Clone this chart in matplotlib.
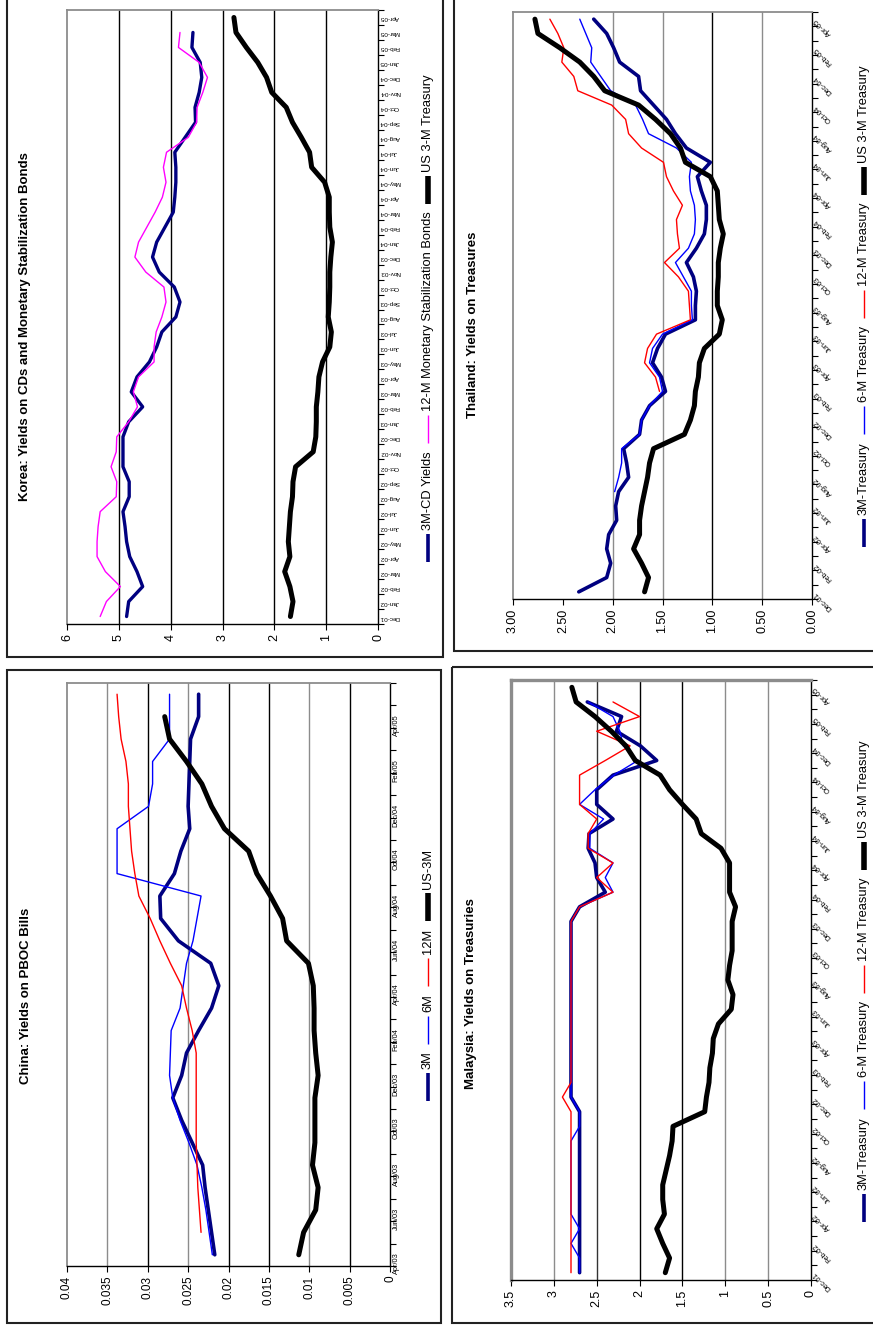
import numpy as np
import matplotlib
matplotlib.use("Agg")
import matplotlib.pyplot as plt
from matplotlib.transforms import Affine2D
from matplotlib.lines import Line2D
from matplotlib.patches import Rectangle

plt.rcParams['font.family'] = ['Liberation Sans', 'DejaVu Sans']

# ---------------- data ----------------
month_names = ['Jan', 'Feb', 'Mar', 'Apr', 'May', 'Jun', 'Jul', 'Aug', 'Sep', 'Oct', 'Nov', 'Dec']
# Korea / Thailand / Malaysia: monthly Dec-01 .. Apr-05 (41 months)
monthly_labels = [f"{month_names[(11 + i) % 12]}-{1 + (11 + i) // 12:02d}" for i in range(41)]
bimonthly_labels = ['Dec-01', 'Feb-02', 'Apr-02', 'Jun-02', 'Aug-02', 'Oct-02', 'Dec-02',
                    'Feb-03', 'Apr-03', 'Jun-03', 'Aug-03', 'Oct-03', 'Dec-03', 'Feb-04',
                    'Apr-04', 'Jun-04', 'Aug-04', 'Oct-04', 'Dec-04', 'Feb-05', 'Apr-05']
# China: monthly Apr/03 .. May/05 (26 months), labelled every other month
china_labels = ['Apr/03', 'Jun/03', 'Aug/03', 'Oct/03', 'Dec/03', 'Feb/04', 'Apr/04',
                'Jun/04', 'Aug/04', 'Oct/04', 'Dec/04', 'Feb/05', 'Apr/05']

korea_cd = [4.85, 4.81, 4.54, 4.65, 4.79, 4.85, 4.88, 4.92, 4.80, 4.80,
            4.92, 4.92, 4.92, 4.81, 4.54, 4.76, 4.65, 4.41, 4.27, 4.17,
            3.90, 3.82, 3.93, 4.22, 4.35, 4.27, 4.11, 3.95, 3.92, 3.90,
            3.90, 3.92, 3.72, 3.52, 3.53, 3.45, 3.40, 3.43, 3.59, 3.57]
korea_msb = [5.36, 5.24, 4.97, 5.26, 5.42, 5.42, 5.40, 5.36, 5.05, 5.04,
             5.15, 5.05, 5.04, 4.81, 4.64, 4.72, 4.62, 4.32, 4.32, 4.28,
             4.17, 4.09, 4.13, 4.48, 4.69, 4.62, 4.46, 4.30, 4.16, 4.09,
             4.14, 4.08, 3.66, 3.50, 3.49, 3.38, 3.29, 3.45, 3.85, 3.82]
korea_us = [1.69, 1.64, 1.70, 1.80, 1.70, 1.73, 1.71, 1.69, 1.65, 1.64,
            1.59, 1.25, 1.20, 1.19, 1.19, 1.16, 1.14, 1.07, 0.93, 0.90,
            0.96, 0.94, 0.93, 0.93, 0.91, 0.88, 0.93, 0.94, 0.94, 1.03,
            1.28, 1.32, 1.48, 1.65, 1.77, 2.05, 2.15, 2.32, 2.54, 2.74, 2.78]

thai_3m = [2.34, 2.06, 2.02, 2.06, 2.04, 1.96, 1.97, 1.94, 1.84, 1.86,
           1.89, 1.73, 1.71, 1.63, 1.47, 1.51, 1.60, 1.55, 1.47, 1.17,
           1.17, 1.16, 1.19, 1.26, 1.16, 1.08, 1.06, 1.06, 1.11, 1.15,
           1.02, 1.26, 1.37, 1.46, 1.59, 1.72, 1.74, 1.93, 1.99, 2.06, 2.19]
thai_6m = [None, None, None, None, None, None, None, 1.98, 1.94, 1.91,
           1.91, 1.73, 1.71, 1.63, 1.50, 1.53, 1.63, 1.60, 1.50, 1.20,
           1.21, 1.21, 1.29, 1.37, 1.24, 1.18, 1.17, 1.18, 1.22, 1.23,
           1.21, 1.36, 1.64, 1.70, 1.77, 2.02, 2.12, 2.22, 2.21, 2.27, 2.33]
thai_12m = [None, None, None, None, None, None, None, None, None, None,
            None, None, None, None, 1.53, 1.57, 1.68, 1.65, 1.56, 1.22,
            1.23, 1.24, 1.34, 1.48, 1.33, 1.35, 1.36, 1.30, 1.39, 1.46,
            1.49, 1.71, 1.84, 1.87, 2.01, 2.35, 2.39, 2.51, 2.49, 2.55, 2.63]
thai_us = [1.68, 1.64, 1.71, 1.79, 1.73, 1.73, 1.71, 1.68, 1.65, 1.63,
           1.59, 1.28, 1.22, 1.18, 1.17, 1.14, 1.13, 1.08, 0.93, 0.90,
           0.95, 0.95, 0.94, 0.94, 0.92, 0.89, 0.93, 0.94, 0.95, 1.02,
           1.27, 1.32, 1.42, 1.57, 1.74, 2.08, 2.19, 2.33, 2.53, 2.75, 2.78]

china_3m = [0.0217, 0.0221, 0.0225, 0.0229, 0.0232, 0.0245, 0.0258, 0.0269, 0.0258, 0.0252,
            0.0237, 0.0221, 0.0212, 0.0222, 0.0262, 0.0284, 0.0285, 0.0267, 0.0259, 0.0248,
            0.0250, 0.0249, 0.0248, 0.0247, 0.0237, 0.0237]
china_6m = [0.0220, 0.0224, 0.0228, 0.0233, 0.0239, 0.0249, 0.0260, 0.0269, 0.0273, 0.0272,
            0.0271, 0.0260, 0.0256, 0.0252, 0.0244, 0.0239, 0.0234, 0.0338, 0.0338, 0.0338,
            0.0299, 0.0294, 0.0294, 0.0273, 0.0273, 0.0273]
china_12m = [None, 0.0234, 0.0236, 0.0238, 0.0239, 0.0240, 0.0240, 0.0240, 0.0240, 0.0240,
             0.0245, 0.0252, 0.0258, 0.0272, 0.0285, 0.0297, 0.0311, 0.0316, 0.0320, 0.0322,
             0.0324, 0.0324, 0.0327, 0.0333, 0.0336, 0.0338]
china_us = [0.0113, 0.0107, 0.0092, 0.0089, 0.0096, 0.0093, 0.0093, 0.0093, 0.0089, 0.0092,
            0.0094, 0.0094, 0.0095, 0.0101, 0.0128, 0.0133, 0.0148, 0.0165, 0.0175, 0.0205,
            0.0221, 0.0233, 0.0252, 0.0273, 0.0279, None]

malay_3m = [2.70, 2.70, 2.70, 2.70, 2.70, 2.70, 2.70, 2.70, 2.70, 2.70,
            2.70, 2.70, 2.80, 2.80, 2.80, 2.80, 2.80, 2.80, 2.80, 2.80,
            2.80, 2.80, 2.80, 2.80, 2.80, 2.70, 2.40, 2.50, 2.52, 2.60,
            2.59, 2.31, 2.50, 2.50, 2.31, 1.80, 1.99, 2.27, 2.21, 2.61]
malay_6m = [2.70, 2.70, 2.80, 2.70, 2.80, 2.80, 2.80, 2.80, 2.80, 2.80,
            2.70, 2.70, 2.80, 2.80, 2.80, 2.80, 2.80, 2.80, 2.80, 2.80,
            2.80, 2.80, 2.80, 2.80, 2.80, 2.70, 2.31, 2.40, 2.31, 2.58,
            2.58, 2.42, 2.70, 2.52, 2.30, 2.02, 2.19, 2.23, 2.31, 2.60]
malay_12m = [2.80, 2.80, 2.80, 2.80, 2.80, 2.80, 2.80, 2.80, 2.80, 2.80,
             2.80, 2.80, 2.90, 2.80, 2.80, 2.80, 2.80, 2.80, 2.80, 2.80,
             2.80, 2.80, 2.80, 2.80, 2.80, 2.70, 2.31, 2.50, 2.31, 2.60,
             2.60, 2.50, 2.70, 2.70, 2.70, 2.40, 2.11, 2.50, 2.00, 2.31]
malay_us = [1.70, 1.65, 1.73, 1.80, 1.71, 1.73, 1.73, 1.69, 1.65, 1.62,
            1.61, 1.24, 1.22, 1.19, 1.18, 1.15, 1.14, 1.08, 0.93, 0.91,
            0.97, 0.95, 0.92, 0.92, 0.92, 0.88, 0.95, 0.95, 0.95, 1.05,
            1.28, 1.34, 1.50, 1.65, 1.76, 2.05, 2.16, 2.33, 2.52, 2.74, 2.79]

korea_vticks = [0, 1, 2, 3, 4, 5, 6]
korea_vlabels = ['0', '1', '2', '3', '4', '5', '6']
thai_vticks = [0, 0.5, 1.0, 1.5, 2.0, 2.5, 3.0]
thai_vlabels = ['0.00', '0.50', '1.00', '1.50', '2.00', '2.50', '3.00']
china_vticks = [0, 0.005, 0.01, 0.015, 0.02, 0.025, 0.03, 0.035, 0.04]
china_vlabels = ['0', '0.005', '0.01', '0.015', '0.02', '0.025', '0.03', '0.035', '0.04']
malay_vticks = [0, 0.5, 1, 1.5, 2, 2.5, 3, 3.5]
malay_vlabels = ['0', '0.5', '1', '1.5', '2', '2.5', '3', '3.5']

NAVY, BLUE, RED, MAGENTA, BLACK, GRAY = '#000080', '#0000ff', '#ff0000', '#ff00ff', '#000000', '#8c8c8c'

# ---------------- figure ----------------
W, H = 873, 1333
fig = plt.figure(figsize=(W / 100, H / 100), dpi=100)
px = Affine2D().scale(1 / W, -1 / H).translate(0, 1) + fig.transFigure


def box(x0, y0, x1, y1):
    fig.add_artist(Rectangle((x0, y0), x1 - x0, y1 - y0, transform=px, fill=False,
                             edgecolor='#222222', lw=1.5))


def panel(rect, series, vticks, vlabels, grid_colors, ncat, cat_pos, cat_labels,
          cat_rot, cat_fs, cat_pad, v_fs, frame_lw=1.3):
    x0, y0, x1, y1 = rect
    ax = fig.add_axes([x0 / W, 1 - y1 / H, (x1 - x0) / W, (y1 - y0) / H])
    for vals, color, lw in series:
        v = np.array(vals, dtype=float)
        ax.plot(v, np.arange(len(v)), color=color, lw=lw, solid_joinstyle='round',
                solid_capstyle='round')
    for v, c in zip(vticks[1:-1], grid_colors):
        ax.axvline(v, color=c, lw=1.0, zorder=0.5)
    ax.set_xlim(vticks[-1], 0)
    ax.set_ylim(-0.5, ncat - 0.5)
    ax.set_xticks(vticks)
    ax.set_xticklabels(vlabels, rotation=90, fontsize=v_fs)
    ax.tick_params(axis='x', direction='out', length=4, width=0.8, pad=3)
    ax.yaxis.tick_right()
    ax.set_yticks(np.arange(ncat + 1) - 0.5)
    ax.set_yticklabels([])
    ax.set_yticks(cat_pos, minor=True)
    ax.set_yticklabels(cat_labels, minor=True, fontsize=cat_fs)
    ax.tick_params(axis='y', which='major', direction='out', length=4, width=0.8)
    ax.tick_params(axis='y', which='minor', length=0, pad=cat_pad)
    for t in ax.get_yticklabels(minor=True):
        if cat_rot == 135:
            t.set_rotation(135)
            t.set_rotation_mode('anchor')
            t.set_ha('right')
            t.set_va('center')
        else:
            t.set_rotation(cat_rot)
    for s in ('top', 'left'):
        ax.spines[s].set_color(GRAY)
        ax.spines[s].set_linewidth(frame_lw)
    for s in ('right', 'bottom'):
        ax.spines[s].set_color('black')
        ax.spines[s].set_linewidth(1.0)
    return ax


def title(x, y, s):
    fig.text(x, y, s, transform=px, rotation=90, ha='center', va='center',
             fontsize=9.5, fontweight='bold')


def legend(x, yc, entries, fs=9.3, sample=28, gap1=4, gap2=8):
    r = fig.canvas.get_renderer()
    items = []
    total = 0
    for label, color, lw in entries:
        t = fig.text(x, yc, label, transform=px, rotation=90, ha='center', va='bottom', fontsize=fs)
        h = t.get_window_extent(r).height
        items.append((t, h, color, lw))
        total += sample + gap1 + h
    total += gap2 * (len(entries) - 1)
    y = yc + total / 2
    for t, h, color, lw in items:
        fig.add_artist(Line2D([x, x], [y, y - sample], transform=px, color=color, lw=lw,
                              solid_capstyle='butt'))
        y -= sample + gap1
        t.set_position((x, y))
        y -= h + gap2


# boxes around the four charts
box(7, -10, 443, 657)
box(454, -10, 890, 651)
box(7, 670, 441, 1323)
box(452, 667, 890, 1323)

# Korea
panel((67, 10, 378, 624),
      [(korea_cd, NAVY, 2.4), (korea_msb, MAGENTA, 1.0), (korea_us, BLACK, 3.6)],
      korea_vticks, korea_vlabels, [BLACK] * 5, 41, list(range(41)), monthly_labels,
      180, 4.6, 1, 9)
title(25, 327, 'Korea: Yields on CDs and Monetary Stabilization Bonds')
legend(428, 318, [('3M-CD Yields', NAVY, 2.6), ('12-M Monetary Stabilization Bonds', MAGENTA, 1.0),
                  ('US 3-M Treasury', BLACK, 4.0)])

# Thailand
panel((513, 12, 812, 599),
      [(thai_3m, NAVY, 2.6), (thai_6m, BLUE, 1.0), (thai_12m, RED, 1.0), (thai_us, BLACK, 3.6)],
      thai_vticks, thai_vlabels, [GRAY, BLACK, GRAY, GRAY], 41, list(range(0, 41, 2)),
      bimonthly_labels, 135, 5.3, 2, 9)
title(473, 325, 'Thailand: Yields on Treasures')
legend(864, 306, [('3M-Treasury', NAVY, 2.6), ('6-M Treasury', BLUE, 1.0),
                  ('12-M Treasury', RED, 1.0), ('US 3-M Treasury', BLACK, 4.0)])

# China
panel((67, 683, 390, 1266),
      [(china_3m, NAVY, 2.6), (china_6m, BLUE, 1.0), (china_12m, RED, 1.0), (china_us, BLACK, 3.6)],
      china_vticks, china_vlabels, [BLACK, GRAY, BLACK, BLACK, GRAY, BLACK, GRAY], 26,
      list(range(0, 26, 2)), china_labels, 90, 5.3, 2, 8.5)
title(26, 996, 'China: Yields on PBOC Bills')
legend(428, 975, [('3M', NAVY, 2.6), ('6M', BLUE, 1.0), ('12M', RED, 1.0), ('US-3M', BLACK, 4.0)])

# Malaysia
panel((511, 680, 811, 1280),
      [(malay_3m, NAVY, 2.6), (malay_6m, BLUE, 1.0), (malay_12m, RED, 1.0), (malay_us, BLACK, 3.6)],
      malay_vticks, malay_vlabels, [GRAY, GRAY, BLACK, BLACK, '#333333', GRAY], 41,
      list(range(0, 41, 2)), bimonthly_labels, 135, 5.3, 2, 9, frame_lw=2.4)
title(471, 994, 'Malaysia: Yields on Treasuries')
legend(864, 981, [('3M-Treasury', NAVY, 2.6), ('6-M Treasury', BLUE, 1.0),
                  ('12-M Treasury', RED, 1.0), ('US 3-M Treasury', BLACK, 4.0)])

fig.savefig('out.png', dpi=100)
